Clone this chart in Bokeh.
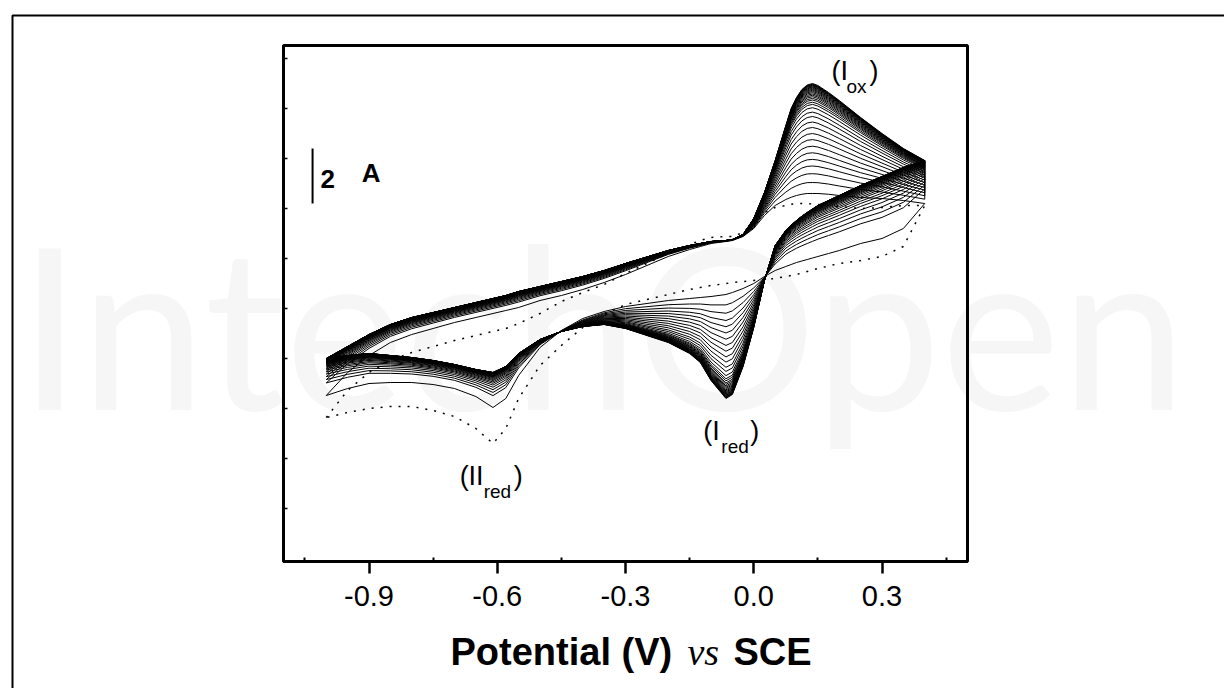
import numpy as np
from bokeh.plotting import figure
from bokeh.models import (Label, BoxAnnotation, FixedTicker, CustomJSTickFormatter, Range1d,
                          LinearAxis)
from bokeh.embed import file_html
from bokeh.resources import INLINE

# ---------------- data (potential in V vs SCE, current in uA) ----------------
potential = [-1.0, -0.95, -0.9, -0.85, -0.8, -0.75, -0.7, -0.65, -0.61, -0.58,
             -0.55, -0.5, -0.45, -0.4, -0.35, -0.3, -0.2, -0.15, -0.125, -0.1,
             -0.065, -0.05, -0.025, 0.0, 0.025, 0.05, 0.075, 0.0875, 0.1, 0.1125,
             0.125, 0.1375, 0.15, 0.175, 0.2, 0.25, 0.3, 0.35, 0.4]

# first cycle (dotted)
cycle1_fwd = [-4.36, -3.28, -2.56, -2.08, -1.76, -1.52, -1.28, -1.08, -0.92, -0.80,
              -0.60, -0.20, 0.28, 0.64, 0.96, 1.40, 2.20, 2.56, 2.72, 2.84,
              2.88, 2.88, 3.04, 3.44, 3.84, 4.04, 4.12, 4.17, 4.20, 4.20,
              4.20, 4.18, 4.16, 4.12, 4.08, 4.00, 4.04, 4.12, 4.12]
cycle1_rev = [-4.36, -4.16, -4.00, -3.92, -3.92, -4.08, -4.32, -4.80, -5.40, -4.80,
              -3.60, -2.28, -1.48, -0.76, -0.24, 0.16, 0.56, 0.76, 0.84, 0.92,
              1.00, 1.04, 1.08, 1.12, 1.16, 1.20, 1.28, 1.32, 1.36, 1.42,
              1.48, 1.54, 1.60, 1.70, 1.80, 1.92, 2.08, 2.48, 4.12]

# second cycle (first solid)
cycle2_fwd = [-3.48, -2.56, -1.88, -1.36, -1.04, -0.80, -0.56, -0.36, -0.20, -0.08,
              0.04, 0.32, 0.52, 0.76, 1.04, 1.36, 2.08, 2.36, 2.48, 2.60,
              2.68, 2.72, 2.88, 3.20, 3.72, 4.12, 4.36, 4.45, 4.52, 4.57,
              4.60, 4.60, 4.60, 4.57, 4.52, 4.44, 4.40, 4.32, 4.20]
cycle2_rev = [-3.48, -3.20, -3.00, -2.96, -2.96, -3.04, -3.20, -3.52, -3.96, -3.60,
              -2.68, -1.56, -0.88, -0.40, -0.12, 0.08, 0.32, 0.40, 0.44, 0.48,
              0.56, 0.64, 0.80, 1.00, 1.28, 1.52, 1.68, 1.76, 1.84, 1.90,
              1.96, 2.02, 2.08, 2.20, 2.32, 2.60, 2.80, 3.20, 4.20]

# last cycle (outer edge of the black bands)
final_fwd = [-2.00, -1.52, -1.04, -0.64, -0.36, -0.16, 0.04, 0.24, 0.40, 0.52,
             0.68, 0.88, 1.08, 1.28, 1.52, 1.80, 2.32, 2.52, 2.60, 2.68,
             2.72, 2.76, 2.96, 3.60, 4.64, 5.92, 7.32, 8.00, 8.44, 8.76,
             8.94, 9.00, 8.92, 8.64, 8.32, 7.64, 7.00, 6.40, 5.92]
final_rev = [-2.00, -1.88, -1.80, -1.88, -1.96, -2.08, -2.24, -2.44, -2.56, -2.32,
             -1.80, -1.24, -0.92, -0.72, -0.64, -0.80, -1.36, -1.80, -2.16, -2.88,
             -3.60, -3.44, -2.32, -0.76, 1.12, 2.52, 3.12, 3.33, 3.52, 3.69,
             3.84, 3.98, 4.12, 4.32, 4.52, 4.92, 5.28, 5.64, 5.92]

# growth of each later cycle between cycle 2 (0) and the last cycle (1):
# growth_I read off the fans at the Iox / Ired peaks,
# growth_II read off the crowded bands elsewhere (IIred, left and right ends)
growth_I = [0.10, 0.18, 0.25, 0.31, 0.37, 0.43, 0.49, 0.545, 0.60, 0.65, 0.70,
            0.74, 0.78, 0.81, 0.83, 0.85, 0.865, 0.88, 0.893, 0.905, 0.917,
            0.928, 0.938, 0.947, 0.956, 0.964, 0.971, 0.978, 0.984, 0.989,
            0.994, 1.0]
growth_II = [0.34, 0.43, 0.51, 0.58, 0.64, 0.69, 0.73, 0.77, 0.80, 0.83, 0.855,
             0.875, 0.89, 0.905, 0.918, 0.93, 0.94, 0.95, 0.958, 0.965, 0.971,
             0.977, 0.982, 0.986, 0.99, 0.993, 0.995, 0.997, 0.998, 0.999,
             1.0, 1.0]

x_ticks = [-0.9, -0.6, -0.3, 0.0, 0.3]
x_tick_labels = ["-0.9", "-0.6", "-0.3", "0.0", "0.3"]
x_minor = [-1.05, -0.75, -0.45, -0.15, 0.15, 0.45]
y_ticks = [-8, -6, -4, -2, 0, 2, 4, 6, 8, 10]

x_lim = (-1.1, 0.5)
y_lim = (-10.12, 10.52)

scale_bar_x = -1.032
scale_bar_y0 = 4.2
scale_bar_len = 2.2

# ---------------- layout: the frame fills the page, axes sit at fixed places ----------------
W, H = 1224, 688
FRAME_L, FRAME_R, FRAME_T, FRAME_B = 283, 967, 45, 561
px_x = (FRAME_R - FRAME_L) / (x_lim[1] - x_lim[0])
px_y = (FRAME_B - FRAME_T) / (y_lim[1] - y_lim[0])
xr = Range1d(x_lim[0] - FRAME_L / px_x, x_lim[1] + (W - FRAME_R) / px_x)
yr = Range1d(y_lim[0] - (H - FRAME_B) / px_y, y_lim[1] + FRAME_T / px_y)

FONT = "Liberation Sans"
p = figure(width=W, height=H, x_range=xr, y_range=yr, output_backend="svg", toolbar_location=None,
           x_axis_location=None, y_axis_location=None,
           min_border_left=0, min_border_right=0, min_border_top=0, min_border_bottom=0)
p.grid.visible = False
p.background_fill_color = "white"
p.border_fill_color = "white"
p.outline_line_color = None

blank = CustomJSTickFormatter(code="return ''")

xa = LinearAxis(fixed_location=y_lim[0], bounds=x_lim,
                ticker=FixedTicker(ticks=x_ticks, minor_ticks=x_minor),
                major_label_overrides={t: s for t, s in zip(x_ticks, x_tick_labels)})
xa.axis_line_width = 3
xa.major_tick_line_width = 2.5
xa.major_tick_out = 12
xa.major_tick_in = 0
xa.minor_tick_in = 4
xa.minor_tick_out = 0
xa.minor_tick_line_width = 2
xa.major_label_text_font = FONT
xa.major_label_text_font_size = "29px"
xa.major_label_text_color = "black"
xa.major_label_standoff = 12
p.add_layout(xa, "below")

ya = LinearAxis(fixed_location=x_lim[0], bounds=y_lim,
                ticker=FixedTicker(ticks=y_ticks, minor_ticks=[]), formatter=blank)
ya.axis_line_width = 3
ya.major_tick_in = 4
ya.major_tick_out = 0
ya.major_tick_line_width = 1.5
ya.minor_tick_in = 0
ya.minor_tick_out = 0
p.add_layout(ya, "left")

# watermark (behind everything)
p.add_layout(Label(x=-0.354, y=-0.56, text="IntechOpen", text_font="Lato", text_font_size="226px",
                   text_color="#f6f6f6", text_align="center", text_baseline="alphabetic", level="underlay"))

# plot frame
p.quad(left=[x_lim[0]], right=[x_lim[1]], bottom=[y_lim[0]], top=[y_lim[1]],
       fill_color=None, line_color="black", line_width=3)

# ---------------- curves ----------------
E = np.array(potential)


def ramp(e, a, b):
    return np.clip((e - a) / (b - a), 0.0, 1.0)


# share of growth_I in each point of the forward and reverse sweeps
share_fwd = ramp(E, -0.05, 0.0)
share_rev = ramp(E, -0.5, -0.35) * (1.0 - ramp(E, 0.0, 0.075))


def closed_loop(fwd, rev):
    return (np.concatenate([E, E[::-1]]).tolist(),
            np.concatenate([np.asarray(fwd), np.asarray(rev)[::-1]]).tolist())


c2f, c2r = np.array(cycle2_fwd), np.array(cycle2_rev)
lf, lr = np.array(final_fwd), np.array(final_rev)
xs, ys = [], []
x0, y0 = closed_loop(c2f, c2r)
xs.append(x0); ys.append(y0)
for gI, gII in zip(growth_I, growth_II):
    wf = gII + (gI - gII) * share_fwd
    wr = gII + (gI - gII) * share_rev
    f = c2f + wf * (lf - c2f)
    r = c2r + wr * (lr - c2r)
    xx, yy = closed_loop(f, r)
    xs.append(xx); ys.append(yy)

p.multi_line(xs, ys, line_color="black", line_width=1)
d1x, d1y = closed_loop(cycle1_fwd, cycle1_rev)
p.line(d1x, d1y, line_color="black", line_width=1.5, line_dash="2 7")

# scale bar
p.segment(x0=[scale_bar_x], y0=[scale_bar_y0], x1=[scale_bar_x], y1=[scale_bar_y0 + scale_bar_len],
          line_color="black", line_width=2)
p.add_layout(Label(x=-1.0133, y=4.84, text="2", text_font=FONT, text_font_size="26px",
                   text_font_style="bold", text_color="black"))
p.add_layout(Label(x=-0.917, y=4.84, text="A", text_font=FONT, text_font_size="26px",
                   text_font_style="bold", text_color="black"))

# peak labels: (main, subscript, x, y, sub offset, close-paren offset)
peak_labels = [("(I", "ox", 0.182, 8.92, 15, 38),
               ("(I", "red", -0.118, -5.48, 18, 47),
               ("(II", "red", -0.688, -7.28, 24, 54)]
for main, sub, lx, ly, so, co in peak_labels:
    p.add_layout(Label(x=lx, y=ly, text=main, text_font=FONT, text_font_size="27px", text_color="black"))
    p.add_layout(Label(x=lx, y=ly, x_offset=so, y_offset=-11, text=sub, text_font=FONT,
                       text_font_size="19px", text_color="black"))
    p.add_layout(Label(x=lx, y=ly, x_offset=co, text=")", text_font=FONT, text_font_size="27px",
                       text_color="black"))

# axis title with mixed styles
tx, ty = -0.7094, -14.56
p.add_layout(Label(x=tx, y=ty, text="Potential (V)", text_font=FONT, text_font_size="38px",
                   text_font_style="bold", text_color="black"))
p.add_layout(Label(x=tx, y=ty, x_offset=237, text="vs", text_font="Liberation Serif",
                   text_font_size="38px", text_font_style="italic", text_color="black"))
p.add_layout(Label(x=tx, y=ty, x_offset=283, text="SCE", text_font=FONT, text_font_size="38px",
                   text_font_style="bold", text_color="black"))

# outer frame of the page (left and top edges visible)
p.add_layout(BoxAnnotation(left=x_lim[0] - (FRAME_L - 12) / px_x, top=y_lim[1] + (FRAME_T - 15) / px_y,
                           right=xr.end + 1, bottom=yr.start - 5,
                           fill_alpha=0, line_color="black", line_alpha=1.0, line_width=2,
                           level="overlay"))

open("out.html", "w").write(file_html(p, INLINE))
